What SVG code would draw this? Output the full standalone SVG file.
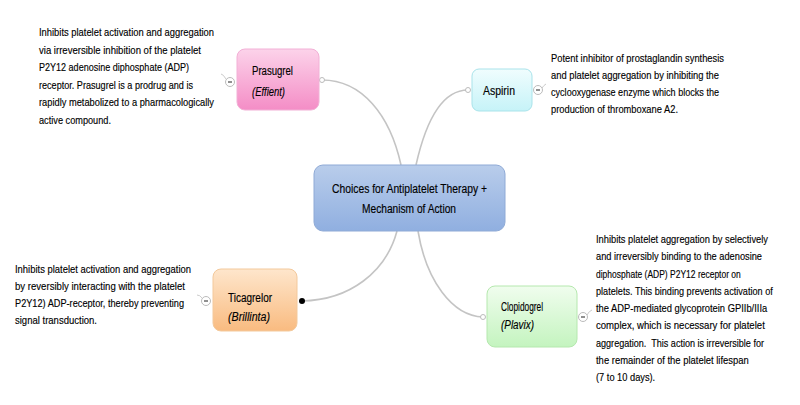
<svg xmlns="http://www.w3.org/2000/svg" width="800" height="405" viewBox="0 0 800 405">
<defs>
<linearGradient id="gPink" x1="0" y1="0" x2="0" y2="1"><stop offset="0" stop-color="#fcd3ea"/><stop offset="1" stop-color="#f48dc6"/></linearGradient>
<linearGradient id="gCyan" x1="0" y1="0" x2="0" y2="1"><stop offset="0" stop-color="#f0fdfe"/><stop offset="1" stop-color="#c6f3f8"/></linearGradient>
<linearGradient id="gBlue" x1="0" y1="0" x2="0" y2="1"><stop offset="0" stop-color="#b9cdeb"/><stop offset="1" stop-color="#90afe0"/></linearGradient>
<linearGradient id="gOrange" x1="0" y1="0" x2="0" y2="1"><stop offset="0" stop-color="#fee6cc"/><stop offset="1" stop-color="#f9bb80"/></linearGradient>
<linearGradient id="gGreen" x1="0" y1="0" x2="0" y2="1"><stop offset="0" stop-color="#f0fdee"/><stop offset="1" stop-color="#c4f4bf"/></linearGradient>
</defs>
<style>
text{font-family:"Liberation Sans",Arial,sans-serif;fill:#000;stroke:#000;stroke-width:0.15}
.desc{font-size:11.7px}
.name{font-size:12.5px}
.it{font-style:italic}
.conn{fill:none;stroke:#c4c4c4;stroke-width:1.6}
.end{fill:#fff;stroke:#bbb;stroke-width:1}
.col circle{fill:#fff;stroke:#bbb;stroke-width:1}
.col line{stroke:#222;stroke-width:1}
.col path{fill:none;stroke:#ccc;stroke-width:1}
.box{stroke-width:1}
</style>
<rect width="800" height="405" fill="#fff"/>
<g id="connectors">
<path class="conn" d="M322,80 C362,80 390,115 401,165"/>
<path class="conn" d="M468,90 C440,90 425,125 416,165"/>
<path class="conn" d="M302,301 C350,300 386,272 397,231"/>
<path class="conn" d="M483,317 C452,316 426,280 418,231"/>
<circle class="end" cx="322" cy="80" r="2.5"/>
<circle class="end" cx="468" cy="90" r="2.5"/>
<circle class="end" cx="483" cy="317" r="2.5"/>
<circle cx="302" cy="301" r="3" fill="#000"/>
</g>
<g id="central">
<rect class="box" x="314" y="165" width="191" height="66" rx="9" fill="url(#gBlue)" stroke="#8faad6"/>
<text class="name" x="332" y="193" textLength="155" lengthAdjust="spacingAndGlyphs">Choices for Antiplatelet Therapy +</text>
<text class="name" x="362" y="213" textLength="94" lengthAdjust="spacingAndGlyphs">Mechanism of Action</text>
</g>
<g id="prasugrel">
<rect class="box" x="237" y="49" width="82" height="61" rx="8" fill="url(#gPink)" stroke="#f2b0d6"/>
<text class="name" x="252" y="75" textLength="41" lengthAdjust="spacingAndGlyphs">Prasugrel</text>
<text class="name it" x="252" y="96" textLength="33" lengthAdjust="spacingAndGlyphs">(Effient)</text>
<g class="col"><path d="M226,79 Q223,74 221,74"/><circle cx="230" cy="82" r="4.5"/><line x1="228" y1="82" x2="232" y2="82"/></g>
<text class="desc" x="39" y="36" textLength="175" lengthAdjust="spacingAndGlyphs">Inhibits platelet activation and aggregation</text>
<text class="desc" x="39" y="53.5" textLength="162" lengthAdjust="spacingAndGlyphs">via irreversible inhibition of the platelet</text>
<text class="desc" x="39" y="71" textLength="150" lengthAdjust="spacingAndGlyphs">P2Y12 adenosine diphosphate (ADP)</text>
<text class="desc" x="39" y="88.5" textLength="154" lengthAdjust="spacingAndGlyphs">receptor. Prasugrel is a prodrug and is</text>
<text class="desc" x="39" y="106" textLength="175" lengthAdjust="spacingAndGlyphs">rapidly metabolized to a pharmacologically</text>
<text class="desc" x="39" y="123.5" textLength="72" lengthAdjust="spacingAndGlyphs">active compound.</text>
</g>
<g id="aspirin">
<rect class="box" x="472" y="69" width="60" height="42" rx="7" fill="url(#gCyan)" stroke="#a9e3ea"/>
<text class="name" x="483" y="95" textLength="32" lengthAdjust="spacingAndGlyphs">Aspirin</text>
<g class="col"><path d="M542,88 Q544,85 546,84"/><circle cx="538" cy="90" r="4.5"/><line x1="536" y1="90" x2="540" y2="90"/></g>
<text class="desc" x="551" y="62" textLength="173" lengthAdjust="spacingAndGlyphs">Potent inhibitor of prostaglandin synthesis</text>
<text class="desc" x="551" y="79" textLength="168" lengthAdjust="spacingAndGlyphs">and platelet aggregation by inhibiting the</text>
<text class="desc" x="551" y="96" textLength="168" lengthAdjust="spacingAndGlyphs">cyclooxygenase enzyme which blocks the</text>
<text class="desc" x="551" y="113" textLength="127" lengthAdjust="spacingAndGlyphs">production of thromboxane A2.</text>
</g>
<g id="ticagrelor">
<rect class="box" x="213" y="269" width="84" height="62" rx="8" fill="url(#gOrange)" stroke="#f3c99c"/>
<text class="name" x="228" y="302" textLength="44" lengthAdjust="spacingAndGlyphs">Ticagrelor</text>
<text class="name it" x="228" y="321" textLength="42" lengthAdjust="spacingAndGlyphs">(Brillinta)</text>
<g class="col"><path d="M202,298 Q200,295 197,295"/><circle cx="206" cy="301" r="4.5"/><line x1="204" y1="301" x2="208" y2="301"/></g>
<text class="desc" x="15" y="273" textLength="176" lengthAdjust="spacingAndGlyphs">Inhibits platelet activation and aggregation</text>
<text class="desc" x="15" y="290" textLength="170" lengthAdjust="spacingAndGlyphs">by reversibly interacting with the platelet</text>
<text class="desc" x="15" y="307" textLength="169" lengthAdjust="spacingAndGlyphs">P2Y12) ADP-receptor, thereby preventing</text>
<text class="desc" x="15" y="324" textLength="82" lengthAdjust="spacingAndGlyphs">signal transduction.</text>
</g>
<g id="clopidogrel">
<rect class="box" x="487" y="286" width="90" height="61" rx="8" fill="url(#gGreen)" stroke="#b5e8ae"/>
<text class="name" x="501" y="311" textLength="42" lengthAdjust="spacingAndGlyphs">Clopidogrel</text>
<text class="name it" x="501" y="329" textLength="33" lengthAdjust="spacingAndGlyphs">(Plavix)</text>
<g class="col"><path d="M587,315 Q589,311 592,310"/><circle cx="583" cy="317" r="4.5"/><line x1="581" y1="317" x2="585" y2="317"/></g>
<g transform="translate(596,0) scale(0.8,1)">
<text class="desc" x="0" y="243" textLength="215" lengthAdjust="spacingAndGlyphs">Inhibits platelet aggregation by selectively</text>
<text class="desc" x="0" y="260.3" textLength="207.5" lengthAdjust="spacingAndGlyphs">and irreversibly binding to the adenosine</text>
<text class="desc" x="0" y="277.6" textLength="181" lengthAdjust="spacingAndGlyphs">diphosphate (ADP) P2Y12 receptor on</text>
<text class="desc" x="0" y="294.9" textLength="221" lengthAdjust="spacingAndGlyphs">platelets. This binding prevents activation of</text>
<text class="desc" x="0" y="312.2" textLength="214" lengthAdjust="spacingAndGlyphs">the ADP-mediated glycoprotein GPIIb/IIIa</text>
<text class="desc" x="0" y="329.5" textLength="211" lengthAdjust="spacingAndGlyphs">complex, which is necessary for platelet</text>
<text class="desc" x="0" y="346.8" textLength="210" lengthAdjust="spacingAndGlyphs" xml:space="preserve">aggregation.  This action is irreversible for</text>
<text class="desc" x="0" y="364.1" textLength="191" lengthAdjust="spacingAndGlyphs">the remainder of the platelet lifespan</text>
<text class="desc" x="0" y="381.4" textLength="74" lengthAdjust="spacingAndGlyphs">(7 to 10 days).</text>
</g>
</g>
</svg>
